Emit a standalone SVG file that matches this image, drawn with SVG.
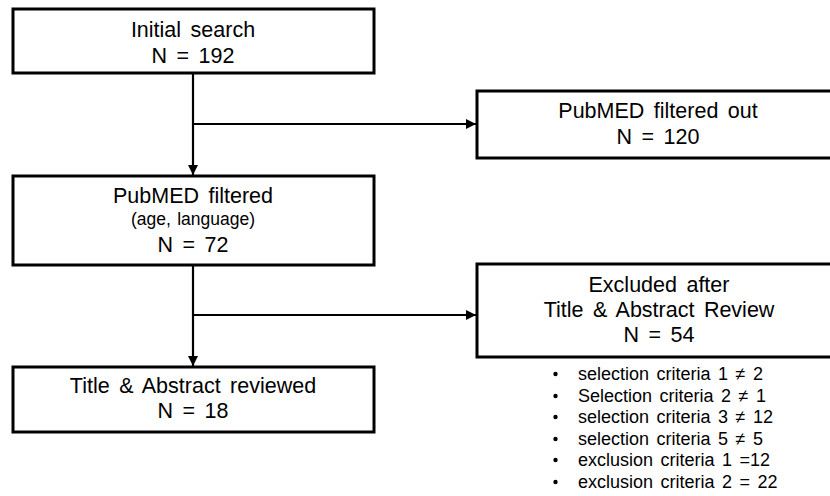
<svg xmlns="http://www.w3.org/2000/svg" width="830" height="496" viewBox="0 0 830 496">
<style>
.box{fill:#fff;stroke:#000;stroke-width:3}
text{font-family:"Liberation Sans",Arial,sans-serif;fill:#000;text-anchor:middle}
.t{font-size:21.5px;word-spacing:3.5px}
.s{font-size:17.5px;word-spacing:1.5px}
.b{font-size:18px;word-spacing:2.5px;text-anchor:start}
.c{fill:none;stroke:#000;stroke-width:2.2}
.dot{fill:#000}
</style>
<defs>
<marker id="ah" markerWidth="12" markerHeight="12" refX="10" refY="5.5" orient="auto" markerUnits="userSpaceOnUse">
<path d="M0,0.5 L10,5.5 L0,10.5 Z" fill="#000"/>
</marker>
</defs>
<g id="connectors">
<path class="c" d="M193,74 V175" marker-end="url(#ah)"/>
<path class="c" d="M193,124 H476" marker-end="url(#ah)"/>
<path class="c" d="M193,266 V366" marker-end="url(#ah)"/>
<path class="c" d="M193,315 H476" marker-end="url(#ah)"/>
</g>
<g id="initial">
<rect class="box" x="13" y="9" width="361" height="64"/>
<text class="t"><tspan x="193" y="37">Initial search</tspan><tspan x="193" y="63">N = 192</tspan></text>
</g>
<g id="filtered-out">
<rect class="box" x="477" y="91" width="362" height="67"/>
<text class="t"><tspan x="658" y="118">PubMED filtered out</tspan><tspan x="658" y="144">N = 120</tspan></text>
</g>
<g id="filtered">
<rect class="box" x="13" y="176" width="361" height="89"/>
<text class="t"><tspan x="193" y="203">PubMED filtered</tspan><tspan class="s" x="193" y="225">(age, language)</tspan><tspan x="193" y="252">N = 72</tspan></text>
</g>
<g id="excluded">
<rect class="box" x="477" y="264" width="362" height="93"/>
<text class="t"><tspan x="659" y="292">Excluded after</tspan><tspan x="659" y="317">Title &amp; Abstract Review</tspan><tspan x="659" y="342">N = 54</tspan></text>
</g>
<g id="reviewed">
<rect class="box" x="13" y="367" width="361" height="65"/>
<text class="t"><tspan x="193" y="393">Title &amp; Abstract reviewed</tspan><tspan x="193" y="418">N = 18</tspan></text>
</g>
<g id="criteria">
<circle class="dot" cx="555.5" cy="374" r="2.2"/>
<circle class="dot" cx="555.5" cy="396" r="2.2"/>
<circle class="dot" cx="555.5" cy="417" r="2.2"/>
<circle class="dot" cx="555.5" cy="439" r="2.2"/>
<circle class="dot" cx="555.5" cy="460" r="2.2"/>
<circle class="dot" cx="555.5" cy="482" r="2.2"/>
<text class="b"><tspan x="578" y="380">selection criteria 1 ≠ 2</tspan><tspan x="578" y="402">Selection criteria 2 ≠ 1</tspan><tspan x="578" y="423">selection criteria 3 ≠ 12</tspan><tspan x="578" y="445">selection criteria 5 ≠ 5</tspan><tspan x="578" y="466">exclusion criteria 1 =12</tspan><tspan x="578" y="488">exclusion criteria 2 = 22</tspan></text>
</g>
</svg>
